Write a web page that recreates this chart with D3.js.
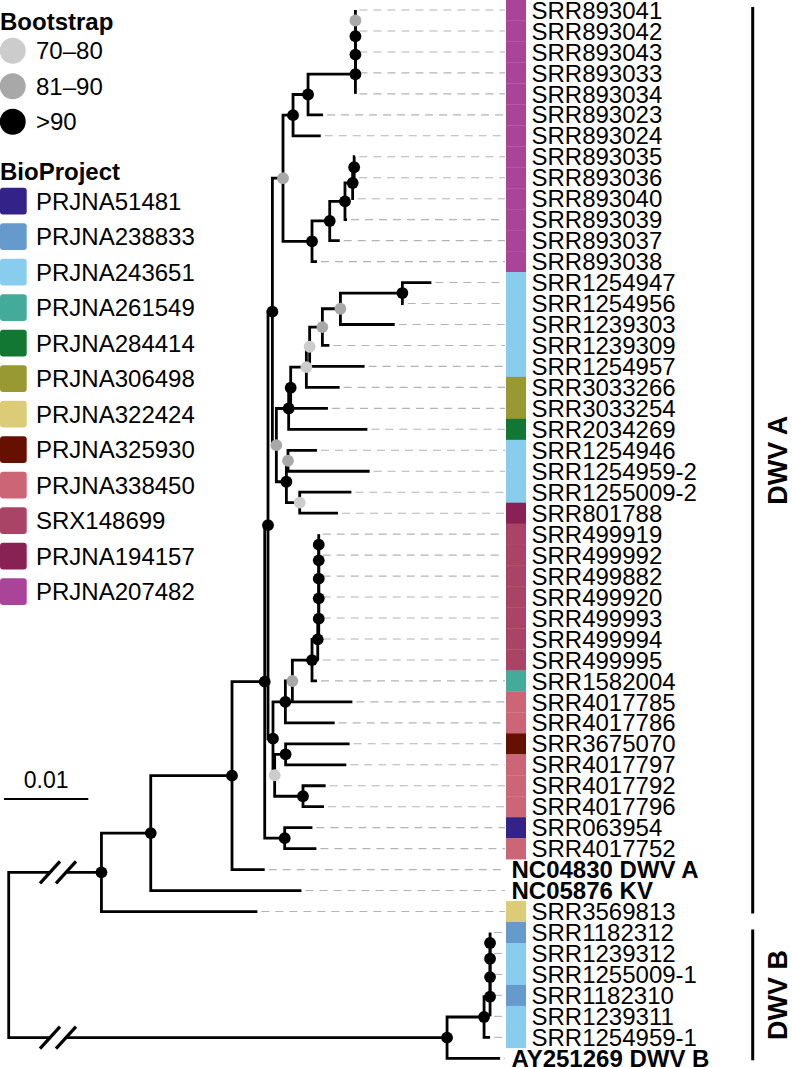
<!DOCTYPE html>
<html><head><meta charset="utf-8">
<script src="https://cdn.jsdelivr.net/npm/d3@7/dist/d3.min.js"></script>
<style>
body{margin:0;background:#fff}
text{font-family:"Liberation Sans",Arial,Helvetica,sans-serif;fill:#000}
</style>
</head><body>
<svg id="c" width="792" height="1067"></svg>
<script>
// ---------- DATA ----------
// Tree topology with branch lengths (substitutions/site); internal labels = bootstrap class code
// a = 70–80, b = 81–90, c = >90. Root branches are drawn broken (display lengths).
const treeNewick =
"((((((((" +
  "((((((SRR893041:0,SRR893042:0)b:0,SRR893043:0)c:0,SRR893033:0)c:0,SRR893034:0)c:0.00562,SRR893023:0.00178)c:0.00178,SRR893024:0.00329)c:0.00119," +
  "(((((SRR893035:0.00012,SRR893036:0.00012)c:0.00018,SRR893040:0.00015)c:0.00091,SRR893039:0.00024)c:0.00181,SRR893037:0.00119)c:0.0021,SRR893038:0.00059)c:0.00344" +
 ")b:0.00126," +
 "((((((((SRR1254947:0.00344,SRR1254956:0.00015)c:0.00735,SRR1239303:0.00644)b:0.00214,SRR1239309:0.00083)b:0.00151,SRR1254957:0.00652)a:0.00039,SRR3033266:0.00395)a:0.00186,SRR3033254:0.00442)c:0.00024,SRR2034269:0.00934)c:0.00146," +
 "((SRR1254946:0.00344,SRR1254959-2:0.00969)b:0.00019,(SRR1255009-2:0.00613,SRR801788:0.00454)a:0.00158)c:0.00119" +
 ")b:0.00047" +
")c:0.00052," +
"((((((((((SRR499919:0,SRR499992:0)c:0,SRR499882:0)c:0,SRR499920:0)c:0,SRR499993:0)c:0,SRR499994:0)c:0.00012,SRR499995:0.00012)c:0.00068,SRR1582004:0.00059)c:0.00233,SRR4017785:0.00712)b:0.00083,SRR4017786:0.00585)c:0.00147," +
 "((SRR3675070:0.00759,SRR4017797:0.0072)c:0.0013,(SRR4017792:0.00269,SRR4017796:0.00249)c:0.00336)a:0.0002" +
")c:0.00059" +
")c:0.00039," +
"(SRR063954:0.00329,SRR4017752:0.00376)c:0.00237" +
")c:0.00388,NC04830 DWV A:0.00388)c:0.00964,NC05876 KV:0.01788)c:0.00585,SRR3569813:0.0185)c:0.011," +
"((((((SRR1182312:0,SRR1239312:0)c:0,SRR1255009-1:0)c:0,SRR1182310:0)c:0,SRR1239311:0)c:0.00071,SRR1254959-1:0.00071)c:0.00439,AY251269 DWV B:0.00629)c:0.052" +
");";

const tipNames = ["SRR893041","SRR893042","SRR893043","SRR893033","SRR893034","SRR893023","SRR893024",
 "SRR893035","SRR893036","SRR893040","SRR893039","SRR893037","SRR893038",
 "SRR1254947","SRR1254956","SRR1239303","SRR1239309","SRR1254957","SRR3033266","SRR3033254","SRR2034269",
 "SRR1254946","SRR1254959-2","SRR1255009-2","SRR801788",
 "SRR499919","SRR499992","SRR499882","SRR499920","SRR499993","SRR499994","SRR499995",
 "SRR1582004","SRR4017785","SRR4017786","SRR3675070","SRR4017797","SRR4017792","SRR4017796",
 "SRR063954","SRR4017752","NC04830 DWV A","NC05876 KV","SRR3569813",
 "SRR1182312","SRR1239312","SRR1255009-1","SRR1182310","SRR1239311","SRR1254959-1","AY251269 DWV B"];

const tipProjects = ["PRJNA207482","PRJNA207482","PRJNA207482","PRJNA207482","PRJNA207482","PRJNA207482","PRJNA207482",
 "PRJNA207482","PRJNA207482","PRJNA207482","PRJNA207482","PRJNA207482","PRJNA207482",
 "PRJNA243651","PRJNA243651","PRJNA243651","PRJNA243651","PRJNA243651","PRJNA306498","PRJNA306498","PRJNA284414",
 "PRJNA243651","PRJNA243651","PRJNA243651","PRJNA194157",
 "SRX148699","SRX148699","SRX148699","SRX148699","SRX148699","SRX148699","SRX148699",
 "PRJNA261549","PRJNA338450","PRJNA338450","PRJNA325930","PRJNA338450","PRJNA338450","PRJNA338450",
 "PRJNA51481","PRJNA338450","","","PRJNA322424",
 "PRJNA238833","PRJNA243651","PRJNA243651","PRJNA238833","PRJNA243651","PRJNA243651",""];

const bootstrapLabels = ["70–80","81–90",">90"];
const bootstrapCodes  = ["a","b","c"];
const bootstrapColors = ["#cccccc","#a8a8a8","#000000"];

const projects = ["PRJNA51481","PRJNA238833","PRJNA243651","PRJNA261549","PRJNA284414","PRJNA306498",
 "PRJNA322424","PRJNA325930","PRJNA338450","SRX148699","PRJNA194157","PRJNA207482"];
const projectColors = ["#332288","#6699CC","#88CCEE","#44AA99","#117733","#999933",
 "#DDCC77","#661100","#CC6677","#AA4466","#882255","#AA4499"];

const cladeNames = ["DWV A","DWV B"];
const cladeFirst = ["SRR893041","SRR1182312"];
const cladeLast  = ["SRR3569813","AY251269 DWV B"];

const scaleBarValue = 0.01;

// ---------- PARSE ----------
function parseNewick(s){
  let i=0;
  function node(){
    const n={};
    if(s[i]==='('){
      n.children=[]; i++;
      n.children.push(node());
      while(s[i]===','){i++; n.children.push(node());}
      i++;
    }
    let name='';
    while(i<s.length && !'(),:;'.includes(s[i])) name+=s[i++];
    n.name=name.trim();
    n.length=0;
    if(s[i]===':'){i++; let num=''; while(i<s.length && !'(),;'.includes(s[i])) num+=s[i++]; n.length=+num;}
    return n;
  }
  return node();
}

// ---------- LAYOUT ----------
const svg = d3.select("#c");
svg.append("rect").attr("width",792).attr("height",1067).attr("fill","#fff");

const root = d3.hierarchy(parseNewick(treeNewick));
root.eachBefore(d => d.dist = d.parent ? d.parent.dist + d.data.length : 0);

const xS = d3.scaleLinear().domain([0, scaleBarValue]).range([8.7, 93]);
const yS = d3.scalePoint().domain(tipNames).range([10, 1058.3]);
const step = yS.step();
root.eachAfter(d => {
  d.py = d.children ? d3.mean(d.children, c => c.py) : yS(d.data.name);
  d.px = xS(d.dist);
});

const projColor = d3.scaleOrdinal().domain(projects).range(projectColors);
const bootColor = d3.scaleOrdinal().domain(bootstrapCodes).range(bootstrapColors);
const projOf = new Map(tipNames.map((t,i)=>[t, tipProjects[i]]));

const LW = 2.8;
const breakA = 50, breakB = 66;
const leaves = root.leaves();
const BAR_X = 506, BAR_W = 20;

// leader dashed lines
svg.append("g").selectAll("line").data(leaves.filter(d => d.px + 4 < BAR_X - 1)).join("line")
  .attr("x1", d => d.px + 4).attr("x2", BAR_X - 1)
  .attr("y1", d => d.py).attr("y2", d => d.py)
  .attr("stroke", "#b4b4b4").attr("stroke-width", 1.1).attr("stroke-dasharray", "8,6");

// branches
const links = root.descendants().filter(d => d.parent);
svg.append("g").selectAll("path").data(links).join("path")
  .attr("fill","none").attr("stroke","#000").attr("stroke-width",LW)
  .attr("stroke-linejoin","miter").attr("stroke-linecap","butt")
  .attr("d", d => {
    const p = d.parent;
    if (!p.parent) {
      return `M${p.px},${p.py}V${d.py}H${breakA}M${breakB},${d.py}H${d.px}`;
    }
    return `M${p.px},${p.py}V${d.py}H${d.px}`;
  });
// break marks
const gBreak = svg.append("g");
links.filter(d => !d.parent.parent).forEach(d => {
  [breakA, breakB].forEach(bx => {
    gBreak.append("line")
      .attr("x1", bx - 10).attr("y1", d.py + 11)
      .attr("x2", bx + 10).attr("y2", d.py - 11)
      .attr("stroke","#000").attr("stroke-width",3.2);
  });
});

// bootstrap dots
const inner = root.descendants().filter(d => d.children && bootstrapCodes.includes(d.data.name));
svg.append("g").selectAll("circle").data(inner).join("circle")
  .attr("cx", d => d.px).attr("cy", d => d.py).attr("r", 5.9)
  .attr("fill", d => bootColor(d.data.name));

// colour bar
svg.append("g").selectAll("rect").data(leaves.filter(d => projOf.get(d.data.name))).join("rect")
  .attr("x", BAR_X).attr("width", BAR_W)
  .attr("y", d => d.py - step/2).attr("height", step + 0.3)
  .attr("fill", d => projColor(projOf.get(d.data.name)));

// tip labels
svg.append("g").selectAll("text").data(leaves).join("text")
  .attr("x", d => projOf.get(d.data.name) ? 531.5 : 511.5)
  .attr("y", d => d.py).attr("dy","0.36em")
  .attr("font-size", 24)
  .attr("font-weight", d => projOf.get(d.data.name) ? "normal" : "bold")
  .text(d => d.data.name);

// clade brackets
const gCl = svg.append("g");
cladeNames.forEach((nm, i) => {
  const y1 = yS(cladeFirst[i]) - 3, y2 = yS(cladeLast[i]) + 2;
  gCl.append("line").attr("x1",752.7).attr("x2",752.7).attr("y1",y1).attr("y2",y2)
    .attr("stroke","#000").attr("stroke-width",3);
  gCl.append("text").attr("transform",`translate(787,${(y1+y2)/2}) rotate(-90)`)
    .attr("text-anchor","middle").attr("font-size",27).attr("font-weight","bold").text(nm);
});

// scale bar
const sbLen = xS(scaleBarValue) - xS(0);
svg.append("line").attr("x1",4).attr("x2",4+sbLen).attr("y1",799).attr("y2",799)
  .attr("stroke","#000").attr("stroke-width",2);
svg.append("text").attr("x",4+sbLen/2).attr("y",788).attr("text-anchor","middle")
  .attr("font-size",23).text(d3.format(".2f")(scaleBarValue));

// legend: bootstrap
const gL = svg.append("g");
gL.append("text").attr("x",0).attr("y",29.5).attr("font-size",24).attr("font-weight","bold").text("Bootstrap");
const legY = d3.scalePoint().domain(bootstrapLabels).range([50.7, 121.7]);
bootstrapLabels.forEach((lb, i) => {
  gL.append("circle").attr("cx",12.7).attr("cy",legY(lb)).attr("r",13).attr("fill",bootstrapColors[i]);
  gL.append("text").attr("x",36).attr("y",legY(lb)).attr("dy","0.36em").attr("font-size",24).text(lb);
});
// legend: BioProject
gL.append("text").attr("x",0).attr("y",180).attr("font-size",24).attr("font-weight","bold").text("BioProject");
const projY = d3.scalePoint().domain(projects).range([201, 591.5]);
projects.forEach((p, i) => {
  gL.append("rect").attr("x",0).attr("y",projY(p)-13.3).attr("width",26.7).attr("height",26.7)
    .attr("rx",3).attr("fill",projectColors[i]);
  gL.append("text").attr("x",36).attr("y",projY(p)).attr("dy","0.36em").attr("font-size",24).text(p);
});
</script>
</body></html>
